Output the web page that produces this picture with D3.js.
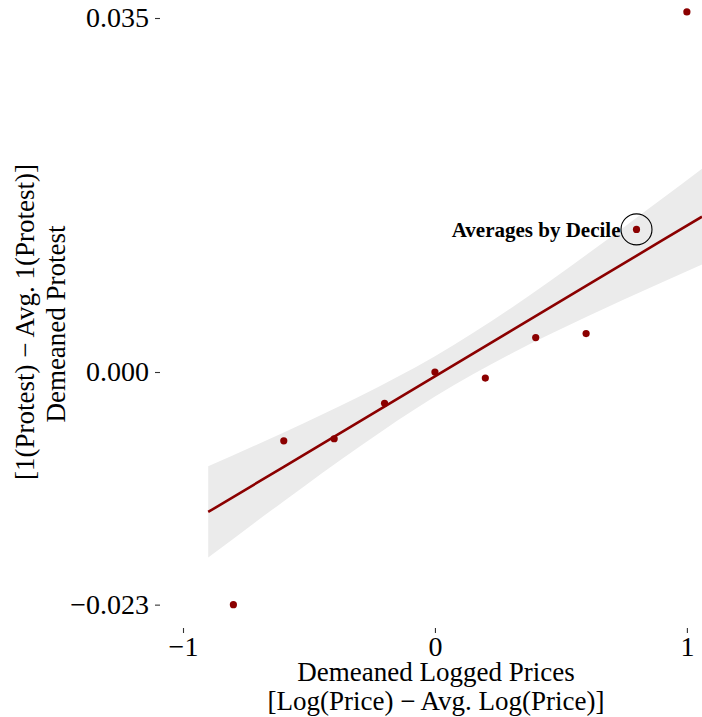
<!DOCTYPE html>
<html>
<head>
<meta charset="utf-8">
<script src="https://cdn.jsdelivr.net/npm/d3@7"></script>
<style>
    body { margin: 0; background: #fff; }
    svg text { font-family: "Liberation Serif", "DejaVu Serif", serif; }
</style>
</head>
<body>
<div id="chart"></div>
<script>
// decile averages
var deciles = [-0.8, -0.6, -0.4, -0.2, 0, 0.2, 0.4, 0.6, 0.8, 1.0];
var protest = [-0.0230, -0.0068, -0.0066, -0.0031, 0.0000, -0.0006, 0.0034, 0.0038, 0.0141, 0.0356];

// fitted line and its confidence band
var fitX     = [-0.9, -0.6, -0.3, 0, 0.3, 0.6, 0.9, 1.06];
var fitY     = [-0.01384, -0.00937, -0.00490, -0.00043, 0.00404, 0.00851, 0.01298, 0.01536];
var fitLower = [-0.01835, -0.01277, -0.00738, -0.00242, 0.00179, 0.00544, 0.00885, 0.01062];
var fitUpper = [-0.00933, -0.00597, -0.00242, 0.00156, 0.00629, 0.01158, 0.01711, 0.02010];

var xTicks = [-1, 0, 1];
var yTicks = [-0.023, 0.000, 0.035];
var highlight = 8; // index of the circled point

var W = 702, H = 717;
var margin = {top: 0, right: 0, bottom: 89, left: 160},
    width = W - margin.left - margin.right,
    height = H - margin.top - margin.bottom;

var x = d3.scaleLinear().domain([-1.0913, 1.06]).range([0, width]);
var y = d3.scaleLinear().domain([-0.02531, 0.03678]).range([height, 0]);

var svg = d3.select("#chart")
    .append("svg")
        .attr("width", W)
        .attr("height", H)
    .append("g")
        .attr("transform", "translate(" + margin.left + "," + margin.top + ")");

var fit = fitX.map(function(d, i) {
    return {x: d, y: fitY[i], lo: fitLower[i], hi: fitUpper[i]};
});

// confidence band
svg.append("path")
    .datum(fit)
    .attr("fill", "#ebebeb")
    .attr("d", d3.area()
        .curve(d3.curveMonotoneX)
        .x(function(d) { return x(d.x); })
        .y0(function(d) { return y(d.lo); })
        .y1(function(d) { return y(d.hi); }));

// fitted line
svg.append("path")
    .datum(fit)
    .attr("fill", "none")
    .attr("stroke", "#8b0000")
    .attr("stroke-width", 2.6)
    .attr("d", d3.line()
        .x(function(d) { return x(d.x); })
        .y(function(d) { return y(d.y); }));

// points
svg.selectAll(".pt")
    .data(deciles)
    .enter().append("circle")
        .attr("class", "pt")
        .attr("cx", function(d) { return x(d); })
        .attr("cy", function(d, i) { return y(protest[i]); })
        .attr("r", 3.6)
        .attr("fill", "#8b0000");

// annotation
var hx = x(deciles[highlight]), hy = y(protest[highlight]);
svg.append("circle")
    .attr("cx", hx).attr("cy", hy).attr("r", 15.5)
    .attr("fill", "none").attr("stroke", "#000").attr("stroke-width", 1.1);
svg.append("text")
    .attr("x", hx - 16).attr("y", hy + 8)
    .attr("text-anchor", "end")
    .style("font-size", "21px").style("font-weight", "bold")
    .text("Averages by Decile");

// axes: ticks only, no domain line
var fmtY = function(d) { return d3.format(".3f")(d).replace("-", "\u2212"); };
var fmtX = function(d) { return d3.format("d")(d).replace("-", "\u2212"); };

var gx = svg.append("g")
    .attr("transform", "translate(0," + height + ")")
    .call(d3.axisBottom(x).tickValues(xTicks).tickSize(5).tickPadding(3).tickFormat(fmtX));
var gy = svg.append("g")
    .call(d3.axisLeft(y).tickValues(yTicks).tickSize(5).tickPadding(6).tickFormat(fmtY));

[gx, gy].forEach(function(g) {
    g.select(".domain").remove();
    g.selectAll("line").attr("stroke", "#333").attr("stroke-width", 1.1);
    g.selectAll("text")
        .attr("fill", "#000")
        .style("font-family", "'Liberation Serif', serif")
        .style("font-size", "28px");
});

// axis titles
var titleSize = "27px";
svg.append("text")
    .attr("x", 276).attr("y", 681)
    .attr("text-anchor", "middle").style("font-size", titleSize)
    .text("Demeaned Logged Prices");
svg.append("text")
    .attr("x", 276).attr("y", 710)
    .attr("text-anchor", "middle").style("font-size", titleSize)
    .text("[Log(Price) \u2212 Avg. Log(Price)]");

svg.append("text")
    .attr("transform", "translate(" + (65 - margin.left) + ",324) rotate(-90)")
    .attr("text-anchor", "middle").style("font-size", titleSize)
    .text("Demeaned Protest");
svg.append("text")
    .attr("transform", "translate(" + (34 - margin.left) + ",322) rotate(-90)")
    .attr("text-anchor", "middle").style("font-size", titleSize)
    .text("[1(Protest) \u2212 Avg. 1(Protest)]");
</script>
</body>
</html>
